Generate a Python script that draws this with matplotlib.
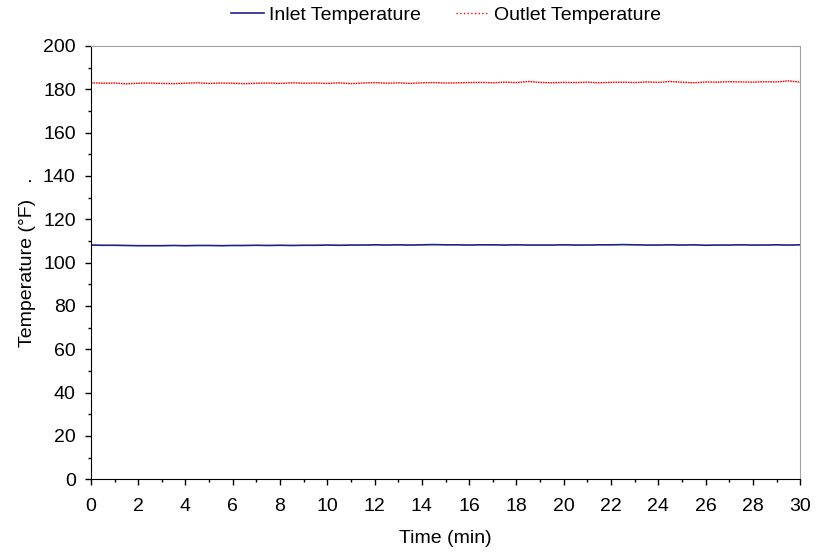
import numpy as np
import matplotlib.pyplot as plt
from matplotlib.lines import Line2D
from matplotlib.ticker import MultipleLocator

plt.rcParams['font.family'] = ['Liberation Sans', 'DejaVu Sans']

# Time in minutes, sampled every half minute
time_min = np.arange(0, 30.01, 0.5)

# Outlet temperature (F)
outlet = [183.0, 182.8, 182.9, 182.5, 182.8, 182.9, 182.7, 182.6, 182.8, 183.0,
          182.7, 182.9, 182.8, 182.6, 182.8, 182.9, 182.7, 183.0, 182.8, 182.9,
          182.7, 183.0, 182.6, 182.9, 183.1, 182.8, 183.0, 182.7, 183.0, 183.1,
          182.9, 183.0, 183.1, 183.2, 183.0, 183.3, 183.1, 183.6, 183.2, 183.0,
          183.2, 183.1, 183.3, 183.0, 183.2, 183.3, 183.1, 183.4, 183.2, 183.6,
          183.3, 183.0, 183.4, 183.3, 183.5, 183.4, 183.3, 183.5, 183.4, 183.9,
          183.3]

# Inlet temperature (F)
inlet = [108.1, 108.0, 108.0, 107.9, 107.8, 107.8, 107.8, 107.9, 107.8, 107.9,
         107.9, 107.8, 107.9, 107.9, 108.0, 107.9, 108.0, 107.9, 108.0, 108.0,
         108.1, 108.0, 108.1, 108.1, 108.2, 108.1, 108.2, 108.1, 108.2, 108.3,
         108.2, 108.2, 108.1, 108.2, 108.2, 108.1, 108.2, 108.1, 108.1, 108.1,
         108.2, 108.1, 108.1, 108.2, 108.2, 108.3, 108.2, 108.1, 108.1, 108.2,
         108.1, 108.2, 108.0, 108.1, 108.1, 108.2, 108.1, 108.1, 108.2, 108.1,
         108.2]

blue = '#20208a'
red = '#ff0000'

fig = plt.figure(figsize=(8.19, 5.54), dpi=100)
ax = fig.add_axes([0.111, 0.135, 0.866, 0.782])

ax.plot(time_min, inlet, color=blue, lw=1.2)
# dense dotted line - in the original the noisy data makes it look almost solid
ax.plot(time_min, outlet, color=red, lw=1.0, ls=(0, (1.2, 0.6)))

ax.set_xlim(0, 30)
ax.set_ylim(0, 200)
ax.xaxis.set_major_locator(MultipleLocator(2))
ax.xaxis.set_minor_locator(MultipleLocator(1))
ax.yaxis.set_major_locator(MultipleLocator(20))
ax.yaxis.set_minor_locator(MultipleLocator(10))
ax.tick_params(which='major', direction='out', length=4.5, width=1, labelsize=14, colors='black')
ax.tick_params(which='minor', direction='out', length=2.5, width=1)
ax.tick_params(axis='y', which='major', pad=6.5)
ax.tick_params(axis='x', which='major', pad=9)

for s in ['top', 'right']:
    ax.spines[s].set_color('#a0a0a0')
for s in ['left', 'bottom']:
    ax.spines[s].set_color('black')

ax.set_xlabel('Time (min)', fontsize=14, labelpad=11)
ax.set_ylabel('Temperature (°F)   .', fontsize=14, labelpad=5)

handles = [Line2D([], [], color=blue, lw=1.2),
           Line2D([], [], color=red, lw=1.0, ls=':')]
fig.legend(handles, ['Inlet Temperature', 'Outlet Temperature'],
           loc='center', bbox_to_anchor=(0.545, 1 - 15 / 554), ncol=2, frameon=False,
           fontsize=14, handlelength=1.7, columnspacing=1.8, handletextpad=0.26,
           borderpad=0.2)

fig.savefig('out.png', dpi=100)
